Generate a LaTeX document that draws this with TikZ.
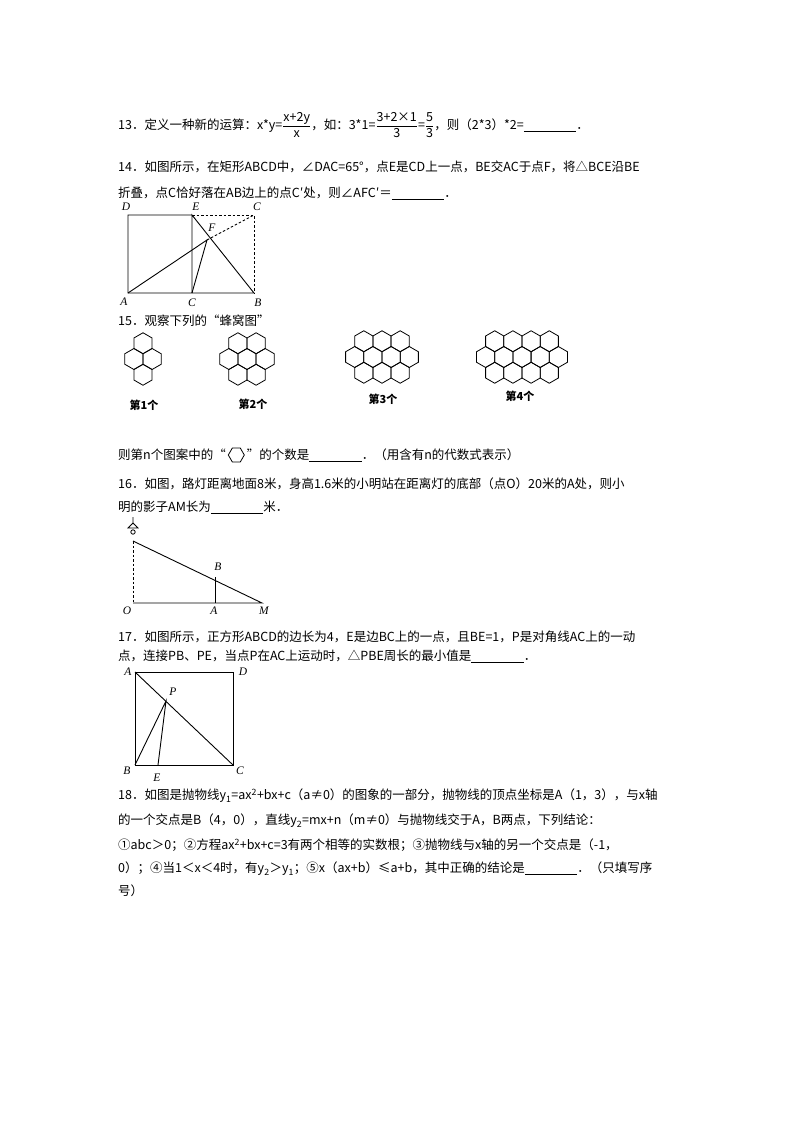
\documentclass[tikz,border=0pt]{standalone}
\usepackage{fontspec}
\setmainfont{Noto Sans CJK SC}
\newfontfamily\labfont{Liberation Serif}
\usepackage{amsmath}
\begin{document}
\begin{tikzpicture}[x=1pt,y=-1pt,
  txt/.style={anchor=west,inner sep=0pt,font=\fontsize{12.5}{14}\selectfont},
  lab/.style={inner sep=0pt,font=\fontsize{11.5}{12}\labfont\itshape},
  captxt/.style={inner sep=0pt,font=\fontsize{11}{12}\selectfont\bfseries},
  fig/.style={line width=0.9pt},
  dsh/.style={line width=0.9pt,dash pattern=on 2.5pt off 2pt}]
\useasboundingbox (0,0) rectangle (800,1132);
\newcommand{\blank}{\underline{\hspace{4.2em}}}
\newcommand{\smallhex}{\,\raisebox{-2.5pt}{\tikz[x=1pt,y=1pt,line width=0.8pt]\draw (0,0) +(0:8) -- +(60:8) -- +(120:8) -- +(180:8) -- +(240:8) -- +(300:8) -- cycle;}\,}
% 13
\node[txt] (t13) at (118,125) {13．定义一种新的运算：x*y=$\dfrac{\mbox{x+2y}}{\mbox{x}}$，如：3*1=$\dfrac{\mbox{3+2×1}}{\mbox{3}}$=$\dfrac{\mbox{5}}{\mbox{3}}$，则（2*3）*2=\blank．};
% 14
\node[txt] (t14a) at (118,167) {14．如图所示，在矩形ABCD中，∠DAC=65°，点E是CD上一点，BE交AC于点F，将△BCE沿BE};
\node[txt] (t14b) at (118,193) {折叠，点C恰好落在AB边上的点C′处，则∠AFC′＝\blank．};
\coordinate (D) at (128,215); \coordinate (E) at (192,215); \coordinate (Cp) at (254,215);
\coordinate (A) at (128,293); \coordinate (C) at (192,293); \coordinate (B) at (254,293);
\coordinate (F) at (207,240);
\draw[fig] (E) -- (D) -- (A) -- (B) -- (E) -- (C);
\draw[fig] (A) -- (F) -- (C);
\draw[dsh] (E) -- (Cp) -- (B); \draw[dsh] (F) -- (Cp);
\node[lab] (lD) at (126,207) {D}; \node[lab] (lE) at (196,207) {E}; \node[lab] (lCp) at (257,207) {C};
\node[lab] (lF) at (212,228) {F}; \node[lab] (lA) at (124,302) {A}; \node[lab] (lC) at (192,303) {C}; \node[lab] (lB) at (258,303) {B};
% 15
\node[txt] (t15) at (118,321) {15．观察下列的“蜂窝图”};
\newcommand{\hexa}[3]{\draw[line width=0.8pt] (#1,#2) +(90:#3) -- +(150:#3) -- +(210:#3) -- +(270:#3) -- +(330:#3) -- +(30:#3) -- cycle;}
\newcommand{\comb}[3]{%
  \pgfmathsetmacro{\r}{10.5}\pgfmathsetmacro{\w}{1.732*\r}
  \foreach \k in {1,...,#3} {\pgfmathsetmacro{\xx}{#1+(\k-(#3+1)/2)*\w}
    \hexa{\xx}{#2-1.5*\r}{\r} \hexa{\xx}{#2+1.5*\r}{\r}}
  \foreach \k in {1,...,\numexpr#3+1\relax} {\pgfmathsetmacro{\xx}{#1+(\k-(#3+2)/2)*\w}
    \hexa{\xx}{#2}{\r}}}
\comb{143}{359}{1}
\comb{247}{359}{2}
\comb{382}{357}{3}
\comb{522}{357}{4}
\node[captxt] (c1) at (144,405) {第1个};
\node[captxt] (c2) at (253,404) {第2个};
\node[captxt] (c3) at (383,399) {第3个};
\node[captxt] (c4) at (520,396) {第4个};
\node[txt] (t15b) at (118,455) {则第n个图案中的“\smallhex”的个数是\blank．（用含有n的代数式表示）};
% 16
\node[txt] (t16a) at (118,484) {16．如图，路灯距离地面8米，身高1.6米的小明站在距离灯的底部（点O）20米的A处，则小};
\node[txt] (t16b) at (118,507) {明的影子AM长为\blank 米．};
\coordinate (O) at (133,603); \coordinate (L) at (133,541); \coordinate (M) at (262,603);
\coordinate (A2) at (215,603); \coordinate (B2) at (215,577);
\draw[fig] (O) -- (M) -- (L); \draw[fig] (A2) -- (B2);
\draw[dsh] (L) -- (O);
\draw[line width=0.8pt] (133,517) -- (133,524) (128,528) -- (133,523) -- (138,528) -- cycle;
\draw[line width=0.8pt] (133,532) circle (2.2);
\node[lab] (lO) at (127,611) {O}; \node[lab] (lA2) at (214,611) {A}; \node[lab] (lB2) at (218,567) {B}; \node[lab] (lM) at (264,611) {M};
% 17
\node[txt] (t17a) at (118,637) {17．如图所示，正方形ABCD的边长为4，E是边BC上的一点，且BE=1，P是对角线AC上的一动};
\node[txt] (t17b) at (118,656) {点，连接PB、PE，当点P在AC上运动时，△PBE周长的最小值是\blank．};
\coordinate (A3) at (135,672); \coordinate (D3) at (233,672); \coordinate (B3) at (135,765); \coordinate (C3) at (233,765);
\coordinate (P3) at (166,701); \coordinate (E3) at (158,765);
\draw[fig] (A3) -- (D3) -- (C3) -- (B3) -- cycle; \draw[fig] (A3) -- (C3);
\draw[fig] (B3) -- (P3) -- (E3);
\node[lab] (lA3) at (128,672) {A}; \node[lab] (lD3) at (243,672) {D}; \node[lab] (lB3) at (127,771) {B};
\node[lab] (lE3) at (157,778) {E}; \node[lab] (lC3) at (240,771) {C}; \node[lab] (lP3) at (173,692) {P};
% 18
\node[txt] (t18a) at (118,796) {18．如图是抛物线y\textsubscript{1}=ax\textsuperscript{2}+bx+c（a≠0）的图象的一部分，抛物线的顶点坐标是A（1，3），与x轴};
\node[txt] (t18b) at (118,821) {的一个交点是B（4，0），直线y\textsubscript{2}=mx+n（m≠0）与抛物线交于A，B两点，下列结论：};
\node[txt] (t18c) at (118,845) {①abc＞0；②方程ax\textsuperscript{2}+bx+c=3有两个相等的实数根；③抛物线与x轴的另一个交点是（-1，};
\node[txt] (t18d) at (118,869) {0）；④当1＜x＜4时，有y\textsubscript{2}＞y\textsubscript{1}；⑤x（ax+b）≤a+b，其中正确的结论是\blank．（只填写序};
\node[txt] (t18e) at (118,891) {号）};
\end{tikzpicture}
\end{document}
